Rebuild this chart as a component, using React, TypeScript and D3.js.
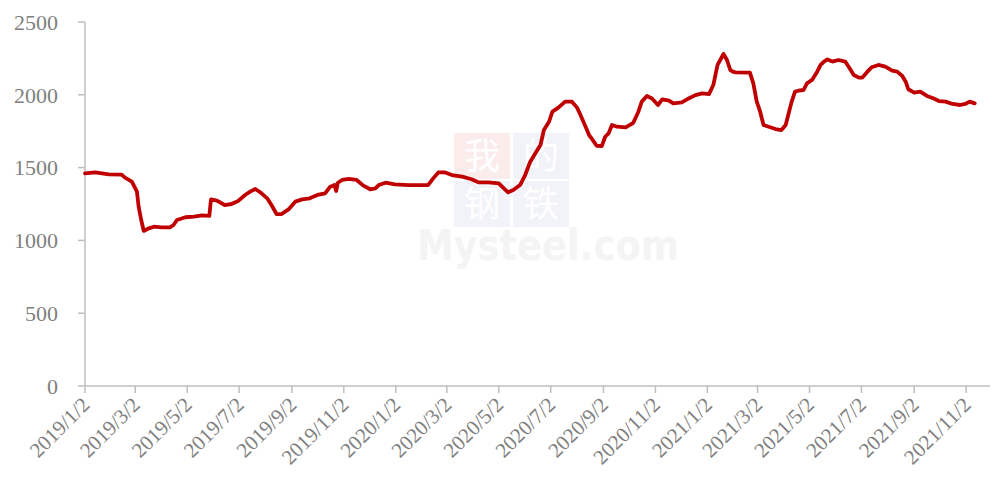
import React, { useEffect, useRef } from "react";
import * as d3 from "d3";

// price series (date, value)
const dates = [
  "2019-01-02", "2019-01-14", "2019-01-30", "2019-02-14", "2019-02-18", "2019-02-26",
  "2019-03-04", "2019-03-06", "2019-03-09", "2019-03-12", "2019-03-18", "2019-03-24",
  "2019-04-02", "2019-04-12", "2019-04-16", "2019-04-20", "2019-04-30", "2019-05-10",
  "2019-05-19", "2019-05-28", "2019-05-30", "2019-06-06", "2019-06-15", "2019-06-23",
  "2019-07-01", "2019-07-09", "2019-07-15", "2019-07-21", "2019-07-27", "2019-08-04",
  "2019-08-09", "2019-08-15", "2019-08-21", "2019-08-29", "2019-09-06", "2019-09-14",
  "2019-09-23", "2019-10-02", "2019-10-11", "2019-10-17", "2019-10-22", "2019-10-24",
  "2019-10-26", "2019-10-31", "2019-11-08", "2019-11-17", "2019-11-25", "2019-12-03",
  "2019-12-09", "2019-12-13", "2019-12-21", "2020-01-01", "2020-01-17", "2020-02-09",
  "2020-02-15", "2020-02-21", "2020-02-29", "2020-03-08", "2020-03-20", "2020-03-31",
  "2020-04-08", "2020-04-20", "2020-05-02", "2020-05-08", "2020-05-13", "2020-05-19",
  "2020-05-27", "2020-06-02", "2020-06-08", "2020-06-14", "2020-06-20", "2020-06-24",
  "2020-06-30", "2020-07-04", "2020-07-11", "2020-07-19", "2020-07-27", "2020-08-02",
  "2020-08-06", "2020-08-12", "2020-08-16", "2020-08-19", "2020-08-25", "2020-08-31",
  "2020-09-04", "2020-09-08", "2020-09-12", "2020-09-18", "2020-09-28", "2020-10-07",
  "2020-10-13", "2020-10-17", "2020-10-23", "2020-10-29", "2020-11-05", "2020-11-10",
  "2020-11-18", "2020-11-23", "2020-12-03", "2020-12-11", "2020-12-19", "2020-12-27",
  "2021-01-04", "2021-01-09", "2021-01-14", "2021-01-21", "2021-01-25", "2021-01-29",
  "2021-02-01", "2021-02-04", "2021-02-21", "2021-02-25", "2021-03-01", "2021-03-05",
  "2021-03-09", "2021-03-15", "2021-03-23", "2021-03-30", "2021-04-04", "2021-04-08",
  "2021-04-11", "2021-04-15", "2021-04-19", "2021-04-25", "2021-04-29", "2021-05-05",
  "2021-05-11", "2021-05-15", "2021-05-19", "2021-05-23", "2021-05-29", "2021-06-05",
  "2021-06-13", "2021-06-17", "2021-06-23", "2021-06-29", "2021-07-03", "2021-07-09",
  "2021-07-14", "2021-07-22", "2021-07-30", "2021-08-07", "2021-08-13", "2021-08-19",
  "2021-08-23", "2021-08-26", "2021-09-02", "2021-09-09", "2021-09-17", "2021-09-25",
  "2021-10-01", "2021-10-09", "2021-10-17", "2021-10-26", "2021-11-01", "2021-11-06",
  "2021-11-12",
];
const values = [
  1461, 1467, 1454, 1452, 1431, 1403,
  1335, 1232, 1140, 1065, 1083, 1094,
  1090, 1090, 1106, 1140, 1159, 1163,
  1172, 1168, 1282, 1273, 1243, 1250,
  1271, 1312, 1335, 1353, 1330, 1289,
  1243, 1181, 1181, 1213, 1266, 1282,
  1289, 1312, 1323, 1369, 1380, 1339,
  1396, 1415, 1422, 1415, 1376, 1351,
  1357, 1380, 1396, 1385, 1380, 1380,
  1426, 1467, 1467, 1449, 1438, 1420,
  1399, 1399, 1392, 1357, 1330, 1346,
  1380, 1449, 1541, 1598, 1655, 1758,
  1815, 1884, 1912, 1953, 1953, 1912,
  1861, 1781, 1724, 1701, 1650, 1648,
  1712, 1735, 1793, 1781, 1776, 1808,
  1884, 1953, 1992, 1975, 1930, 1969,
  1960, 1941, 1948, 1975, 1998, 2010,
  2005, 2067, 2205, 2280, 2239, 2170,
  2159, 2154, 2152, 2079, 1953, 1884,
  1793, 1781, 1765, 1758, 1793, 1884,
  1953, 2022, 2028, 2033, 2079, 2102,
  2159, 2205, 2228, 2243, 2228, 2239,
  2228, 2193, 2136, 2118, 2118, 2159,
  2189, 2205, 2193, 2166, 2159, 2129,
  2090, 2038, 2015, 2022, 1992, 1975,
  1957, 1953, 1937, 1930, 1937, 1953,
  1941,
];
const xTickLabels = [
  "2019/1/2", "2019/3/2", "2019/5/2", "2019/7/2", "2019/9/2", "2019/11/2",
  "2020/1/2", "2020/3/2", "2020/5/2", "2020/7/2", "2020/9/2", "2020/11/2",
  "2021/1/2", "2021/3/2", "2021/5/2", "2021/7/2", "2021/9/2", "2021/11/2",
];
const yTicks = [0, 500, 1000, 1500, 2000, 2500];

const parse = d3.timeParse("%Y-%m-%d");
const parseTick = d3.timeParse("%Y/%m/%d");

const App = () => {
  const ref = useRef<SVGSVGElement>(null);

  useEffect(() => {
    const width = 994;
    const height = 482;
    const margin = { top: 22, right: 4, bottom: 96, left: 85 };
    const svg = d3.select(ref.current);
    svg.selectAll("*").remove();

    const axisColor = "#bfbfbf";
    const textColor = "#808080";
    const font = "'Liberation Serif', 'Times New Roman', serif";

    var x = d3
      .scaleTime()
      .domain([parse("2019-01-02")!, parse("2021-11-30")!])
      .range([margin.left, width - margin.right]);
    var y = d3
      .scaleLinear()
      .domain([0, 2500])
      .range([height - margin.bottom, margin.top]);

    // faint watermark
    const wm = svg.append("g").attr("class", "watermark");
    const boxes = [
      { t: "我", bx: 454, by: 133, fill: "#fbecec" },
      { t: "的", bx: 513, by: 133, fill: "#f1f3f8" },
      { t: "钢", bx: 454, by: 181, fill: "#f1f3f8" },
      { t: "铁", bx: 513, by: 181, fill: "#f1f3f8" },
    ];
    boxes.forEach((b) => {
      wm.append("rect")
        .attr("x", b.bx)
        .attr("y", b.by)
        .attr("width", 56)
        .attr("height", 46)
        .attr("fill", b.fill);
      wm.append("text")
        .attr("x", b.bx + 28)
        .attr("y", b.by + 36)
        .attr("text-anchor", "middle")
        .attr("font-family", "'Noto Sans CJK SC', serif")
        .attr("font-size", 36)
        .attr("fill", "#ffffff")
        .text(b.t);
    });
    wm.append("text")
      .attr("x", 417)
      .attr("y", 260)
      .attr("font-family", "'DejaVu Sans', sans-serif")
      .attr("font-weight", "bold")
      .attr("font-size", 42)
      .attr("textLength", 262)
      .attr("lengthAdjust", "spacingAndGlyphs")
      .attr("fill", "#f4f4f4")
      .text("Mysteel.com");

    // y axis
    const gy = svg.append("g");
    gy.append("line")
      .attr("x1", margin.left)
      .attr("x2", margin.left)
      .attr("y1", y(2500))
      .attr("y2", y(0))
      .attr("stroke", axisColor)
      .attr("stroke-width", 1.5);
    yTicks.forEach((v) => {
      gy.append("line")
        .attr("x1", margin.left - 7)
        .attr("x2", margin.left)
        .attr("y1", y(v))
        .attr("y2", y(v))
        .attr("stroke", axisColor)
        .attr("stroke-width", 1.5);
      gy.append("text")
        .attr("x", 58)
        .attr("y", y(v))
        .attr("dy", "0.35em")
        .attr("text-anchor", "end")
        .attr("font-family", font)
        .attr("font-size", 22)
        .attr("fill", textColor)
        .text(v);
    });

    // x axis
    const gx = svg.append("g");
    gx.append("line")
      .attr("x1", margin.left)
      .attr("x2", width - margin.right)
      .attr("y1", y(0))
      .attr("y2", y(0))
      .attr("stroke", axisColor)
      .attr("stroke-width", 1.5);
    xTickLabels.forEach((lab) => {
      const xp = x(parseTick(lab)!);
      gx.append("line")
        .attr("x1", xp)
        .attr("x2", xp)
        .attr("y1", y(0))
        .attr("y2", y(0) + 7)
        .attr("stroke", axisColor)
        .attr("stroke-width", 1.5);
      gx.append("text")
        .attr("transform", `translate(${xp + 6},${y(0) + 20}) rotate(-45)`)
        .attr("text-anchor", "end")
        .attr("font-family", font)
        .attr("font-size", 21)
        .attr("fill", textColor)
        .text(lab);
    });

    var data = dates.map((d, i) => ({ x: parse(d)!, y: values[i] }));

    svg
      .append("path")
      .datum(data)
      .attr(
        "d",
        d3
          .line<{ x: Date; y: number }>()
          .x((d) => x(d.x))
          .y((d) => y(d.y))
      )
      .attr("fill", "none")
      .attr("stroke", "#c00000")
      .attr("stroke-width", 3.8)
      .attr("stroke-linejoin", "round")
      .attr("stroke-linecap", "round");
  }, []);

  return (
    <svg
      ref={ref}
      width={994}
      height={482}
      style={{ position: "absolute", left: 0, top: 0, background: "#fff" }}
    />
  );
};

export default App;
